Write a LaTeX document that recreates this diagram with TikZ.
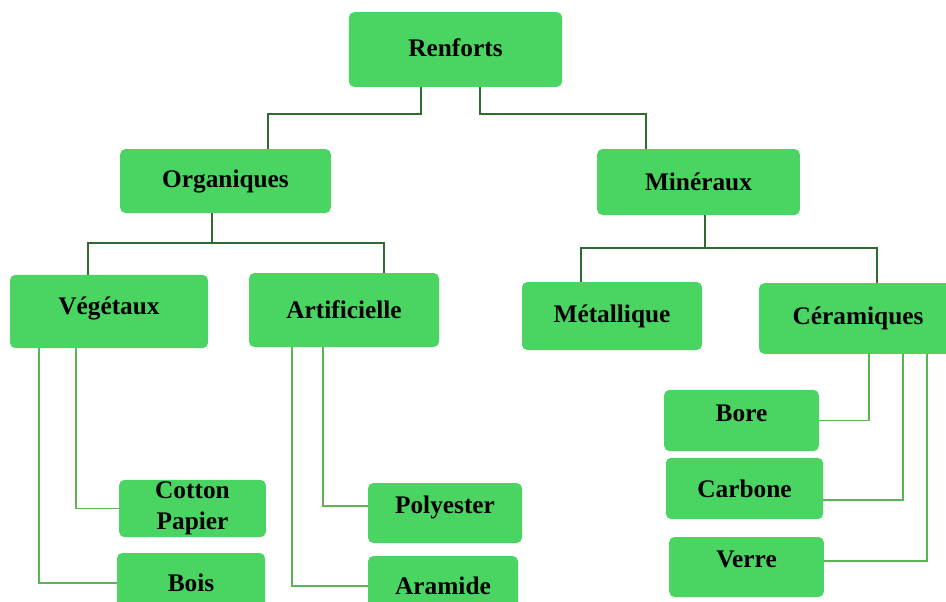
\documentclass[tikz,border=0pt]{standalone}
\usepackage{fontspec}
\setmainfont{Liberation Serif}
\definecolor{boxgreen}{HTML}{4AD562}
\definecolor{trunkgreen}{HTML}{2F6A31}
\definecolor{branchgreen}{HTML}{5CB553}

\begin{document}
\begin{tikzpicture}[x=0.75pt, y=-0.75pt,
    famille/.style={fill=boxgreen, draw=none, rounded corners=4pt, inner sep=0pt,
      align=center, font=\fontsize{19}{23}\selectfont\bfseries},
    lift/.style={text depth=#1},
    trunk/.style={draw=trunkgreen, line width=1.5pt},
    branch/.style={draw=branchgreen, line width=1.4pt}]
      \useasboundingbox (0,0) rectangle (946,601);
      \clip (0,0) rectangle (946,601);

      % Renforts:
      %   root of the classification
      \node[famille, lift=3pt, minimum width=160pt, minimum height=56pt] (renf) at (455.5,49.5) {Renforts};

      % Organiques and Mineraux:
      %   the two big families
      \node[famille, minimum width=158pt, minimum height=48pt] (org) at (225.5,181) {Organiques};
      \node[famille, minimum width=152pt, minimum height=49.5pt] (min) at (698.5,182) {Minéraux};

        % Organiques children
        \node[famille, lift=8.6pt, minimum width=148.5pt, minimum height=55pt] (veg) at (109,311.5) {Végétaux};
        \node[famille, minimum width=142.5pt, minimum height=55.5pt] (art) at (344,310) {Artificielle};
          \node[famille, minimum width=110pt, minimum height=43pt] (cot) at (192.5,508.5) {Cotton\\Papier};
          \node[famille, minimum width=111pt, minimum height=45pt] (bois) at (191,583) {Bois};
          \node[famille, lift=13pt, minimum width=115.5pt, minimum height=45pt] (pol) at (445,513) {Polyester};
          \node[famille, minimum width=112.5pt, minimum height=45pt] (ara) at (443,586) {Aramide};

        % Mineraux children
        \node[famille, minimum width=135pt, minimum height=51pt] (met) at (612,316) {Métallique};
        \node[famille, minimum width=148.5pt, minimum height=53pt] (cer) at (858,318.5) {Céramiques};
          \node[famille, lift=10.5pt, minimum width=116pt, minimum height=46pt] (bore) at (741.5,420.5) {Bore};
          \node[famille, minimum width=118pt, minimum height=46pt] (carb) at (744.5,488.5) {Carbone};
          \node[famille, lift=12pt, minimum width=116pt, minimum height=45pt] (verre) at (746.5,567) {Verre};

      % dark tree links
      \draw[trunk] ([xshift=-26pt]renf.south) -- ++(0,27) -| ([xshift=32pt]org.north);
      \draw[trunk] ([xshift=18.4pt]renf.south) -- ++(0,27) -| ([xshift=-39.4pt]min.north);

      \draw[trunk] ([xshift=-10pt]org.south) -- ++(0,30) coordinate (orgfork);
      \draw[trunk] ([xshift=-15.75pt]veg.north) |- (orgfork) -| ([xshift=30pt]art.north);

      \draw[trunk] ([xshift=4.9pt]min.south) -- ++(0,33) coordinate (minfork);
      \draw[trunk] ([xshift=-23.25pt]met.north) |- (minfork) -| ([xshift=14.25pt]cer.north);

      % light links to the leaves
      \draw[branch] ([xshift=-24.75pt]veg.south) |- (cot.west);
      \draw[branch] ([xshift=-52.5pt]veg.south) |- (bois.west);
      \draw[branch] ([xshift=-15.75pt]art.south) |- ([yshift=5.25pt]pol.west);
      \draw[branch] ([xshift=-39pt]art.south) |- (ara.west);
      \draw[branch] ([xshift=8.25pt]cer.south) |- (bore.east);
      \draw[branch] ([xshift=33.75pt]cer.south) |- ([yshift=-8.6pt]carb.east);
      \draw[branch] ([xshift=51.75pt]cer.south) |- ([yshift=4.5pt]verre.east);
\end{tikzpicture}
\end{document}
